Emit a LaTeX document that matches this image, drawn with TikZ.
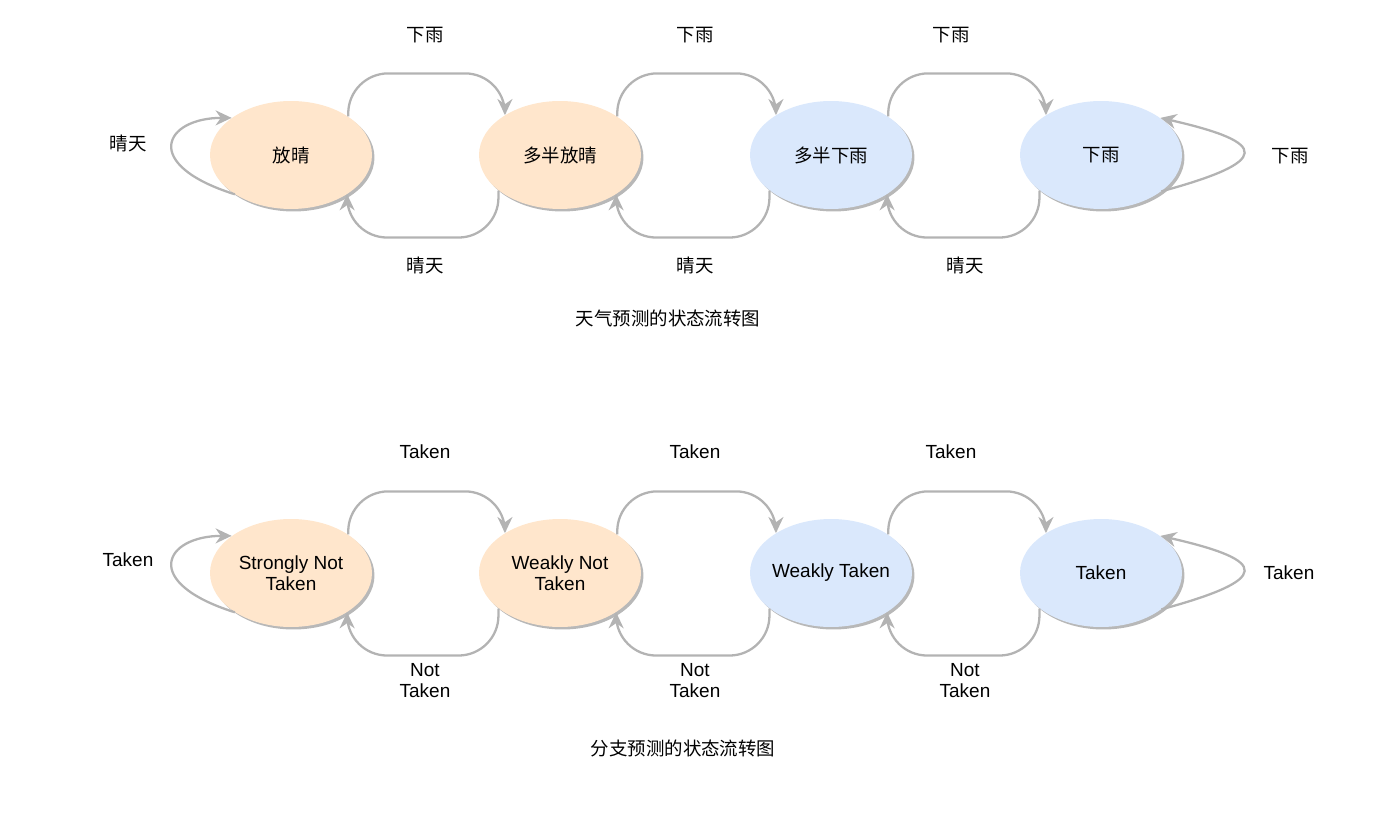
\documentclass[tikz,border=0pt]{standalone}
\usepackage{fontspec}
\setmainfont{Liberation Sans}
\newfontfamily\cjk{Noto Sans CJK SC}
\usepackage{tikz}
\usetikzlibrary{arrows.meta, shapes.geometric, shadows}
\definecolor{warmfill}{HTML}{FFE6CC}
\definecolor{coolfill}{HTML}{DAE8FC}
\definecolor{linegray}{HTML}{B3B3B3}

\begin{document}
\begin{tikzpicture}[x=0.02cm, y=-0.02cm,
  stnode/.style={ellipse, minimum width=3.24cm, minimum height=2.16cm, inner sep=-0.6cm, align=center,
    font=\fontsize{10.8}{12}\selectfont,
    drop shadow={shadow xshift=0.05cm, shadow yshift=-0.05cm, fill=black!35, opacity=0.8}},
  warm/.style={stnode, fill=warmfill},
  cool/.style={stnode, fill=coolfill},
  edge/.style={draw=linegray, line width=1.3pt, rounded corners=0.8cm, -{Stealth[length=0.32cm, width=0.3cm]}},
  lbl/.style={align=center, font=\fontsize{10.8}{12}\selectfont},
  zh/.style={font=\cjk\fontsize{10.5}{12}\selectfont}]
\useasboundingbox (0,0) rectangle (1374,814);

% Weather states
\node[warm, zh] (sunny) at (291,155) {放晴};
\node[warm, zh] (msunny) at (560,155) {多半放晴};
\node[cool, zh] (mrain) at (831,155) {多半下雨};
\node[cool, zh] (rain) at (1101,155) {下雨};

\draw[edge] (sunny.34) -- ++(0,-43) -| (msunny.144);
\draw[edge] (msunny.34) -- ++(0,-43) -| (mrain.144);
\draw[edge] (mrain.34) -- ++(0,-43) -| (rain.144);
\draw[edge] (msunny.210) -- ++(0,47) -| (sunny.-35);
\draw[edge] (mrain.210) -- ++(0,47) -| (msunny.-35);
\draw[edge] (rain.210) -- ++(0,47) -| (mrain.-35);
\draw[edge] (sunny.215) .. controls +(-95,-30) and +(-67,0) .. (sunny.148);
\draw[edge] (rain.-31) .. controls +(110,-30) and +(110,25) .. (rain.32);

\node[zh] (wt1) at (425,35) {下雨};
\node[zh] (wt2) at (695,35) {下雨};
\node[zh] (wt3) at (951,35) {下雨};
\node[zh] (wb1) at (425,265) {晴天};
\node[zh] (wb2) at (695,265) {晴天};
\node[zh] (wb3) at (965,265) {晴天};
\node[zh] (wl) at (128,143) {晴天};
\node[zh] (wr) at (1290,156) {下雨};
\node[zh] (wcap) at (668,318) {天气预测的状态流转图};

% Branch states
\node[warm] (snt) at (291,573) {Strongly Not\\Taken};
\node[warm] (wnt) at (560,573) {Weakly Not\\Taken};
\node[cool] (wtk) at (831,573) {Weakly Taken};
\node[cool] (stk) at (1101,573) {Taken};

\draw[edge] (snt.34) -- ++(0,-43) -| (wnt.144);
\draw[edge] (wnt.34) -- ++(0,-43) -| (wtk.144);
\draw[edge] (wtk.34) -- ++(0,-43) -| (stk.144);
\draw[edge] (wnt.210) -- ++(0,47) -| (snt.-35);
\draw[edge] (wtk.210) -- ++(0,47) -| (wnt.-35);
\draw[edge] (stk.210) -- ++(0,47) -| (wtk.-35);
\draw[edge] (snt.215) .. controls +(-95,-30) and +(-67,0) .. (snt.148);
\draw[edge] (stk.-31) .. controls +(110,-30) and +(110,25) .. (stk.32);

\node[lbl] (bt1) at (425,452) {Taken};
\node[lbl] (bt2) at (695,452) {Taken};
\node[lbl] (bt3) at (951,452) {Taken};
\node[lbl] (bb1) at (425,681) {Not\\Taken};
\node[lbl] (bb2) at (695,681) {Not\\Taken};
\node[lbl] (bb3) at (965,681) {Not\\Taken};
\node[lbl] (bl) at (128,560) {Taken};
\node[lbl] (br) at (1289,573) {Taken};
\node[zh] (bcap) at (683,748) {分支预测的状态流转图};
\end{tikzpicture}
\end{document}
